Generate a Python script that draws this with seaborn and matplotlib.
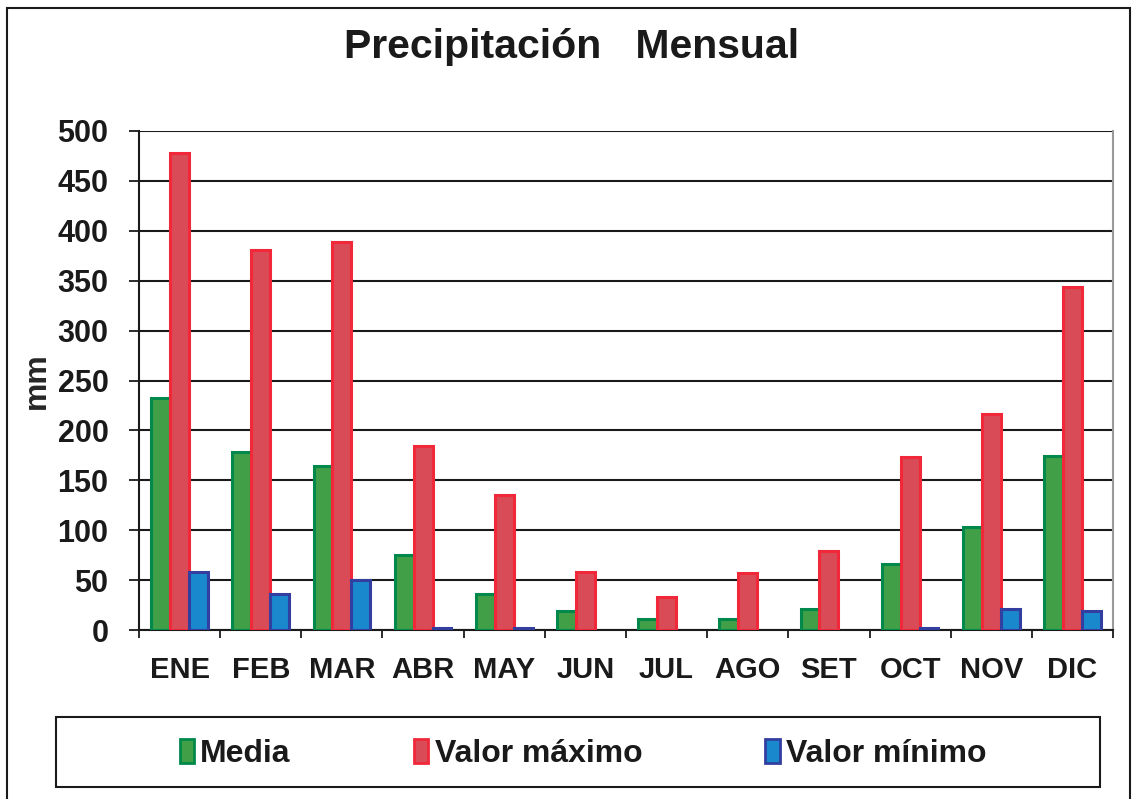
import matplotlib
matplotlib.use("Agg")
import matplotlib.pyplot as plt
from matplotlib.patches import Rectangle, Patch
import seaborn as sns
import pandas as pd

meses = ["ENE", "FEB", "MAR", "ABR", "MAY", "JUN", "JUL", "AGO", "SET", "OCT", "NOV", "DIC"]
media = [232, 178, 164, 75, 36, 19, 11, 11, 21, 66, 103, 174]
valor_maximo = [478, 381, 389, 184, 135, 58, 33, 57, 79, 173, 216, 344]
valor_minimo = [58, 36, 50, 2, 2, 0, 0, 0, 0, 2, 21, 19]
series = ["Media", "Valor máximo", "Valor mínimo"]
y_ticks = [0, 50, 100, 150, 200, 250, 300, 350, 400, 450, 500]

fills = ["#41a047", "#d94b56", "#1a88cc"]
edges = ["#00894a", "#f0283a", "#333fa0"]

sns.set_theme(style="white")
plt.rcParams["font.family"] = ["Liberation Sans", "DejaVu Sans"]
plt.rcParams["font.weight"] = "bold"

df = pd.DataFrame({
    "mes": meses * 3,
    "serie": [series[0]] * 12 + [series[1]] * 12 + [series[2]] * 12,
    "mm": media + valor_maximo + valor_minimo,
})

fig = plt.figure(figsize=(11.34, 7.99), dpi=100)
ax = fig.add_axes([139 / 1134, 1 - 630 / 799, (1113 - 139) / 1134, (630 - 131) / 799])

sns.barplot(data=df, x="mes", y="mm", hue="serie", hue_order=series, order=meses,
            palette=fills, saturation=1, width=0.7, ax=ax, legend=False, zorder=3)

for cont, ec in zip(ax.containers, edges):
    for bar in cont:
        bar.set_edgecolor(ec)
        bar.set_linewidth(2.2 if bar.get_height() > 0 else 0)

ax.set_xlim(-0.5, 11.5)
ax.set_ylim(0, 500)
ax.set_yticks(y_ticks)
ax.yaxis.grid(True, color="#1a1a1a", linewidth=1.5, zorder=0)
ax.set_axisbelow(True)

ax.set_xlabel("")
ax.set_ylabel("mm", fontsize=23, fontweight="bold", labelpad=4)

ax.tick_params(axis="y", which="major", direction="out", length=7, width=1.3,
               color="#1a1a1a", pad=15, labelsize=22, labelcolor="#1a1a1a", left=True)
ax.tick_params(axis="x", which="major", length=0, pad=19, labelsize=21, labelcolor="#1a1a1a")
ax.set_xticks([i + 0.5 for i in range(-1, 12)], minor=True)
ax.tick_params(axis="x", which="minor", direction="out", length=6, width=1.3,
               color="#1a1a1a", bottom=True)
for lab in ax.get_xticklabels() + ax.get_yticklabels():
    lab.set_fontweight("bold")

for side in ["left", "bottom"]:
    ax.spines[side].set_visible(True)
    ax.spines[side].set_color("#1a1a1a")
    ax.spines[side].set_linewidth(1.5)
ax.spines["top"].set_visible(False)
ax.spines["right"].set_visible(True)
ax.spines["right"].set_color("#9a9a9a")
ax.spines["right"].set_linewidth(1.5)

fig.text(572 / 1134, 1 - 47 / 799, "Precipitación   Mensual", ha="center", va="center",
         fontsize=29.5, fontweight="bold", color="#1a1a1a")

# outer chart frame
fig.add_artist(Rectangle((7 / 1134, -0.01), (1130 - 7) / 1134, 1.01 - 8 / 799,
                         transform=fig.transFigure, fill=False, edgecolor="#1a1a1a",
                         linewidth=1.5))

# legend box
fig.add_artist(Rectangle((56 / 1134, 1 - 787 / 799), (1100 - 56) / 1134, (787 - 717) / 799,
                         transform=fig.transFigure, fill=False, edgecolor="#1a1a1a",
                         linewidth=1.5))
handles = [Patch(facecolor=f, edgecolor=e, linewidth=2) for f, e in zip(fills, edges)]
leg = fig.legend(handles, series, loc="center", bbox_to_anchor=(583 / 1134, 1 - 754 / 799),
                 ncol=3, frameon=False, handlelength=0.45, handleheight=0.75,
                 handletextpad=0.2, columnspacing=3.85,
                 prop={"weight": "bold", "size": 23})
for t in leg.get_texts():
    t.set_color("#1a1a1a")

fig.savefig("out.png", dpi=100)
